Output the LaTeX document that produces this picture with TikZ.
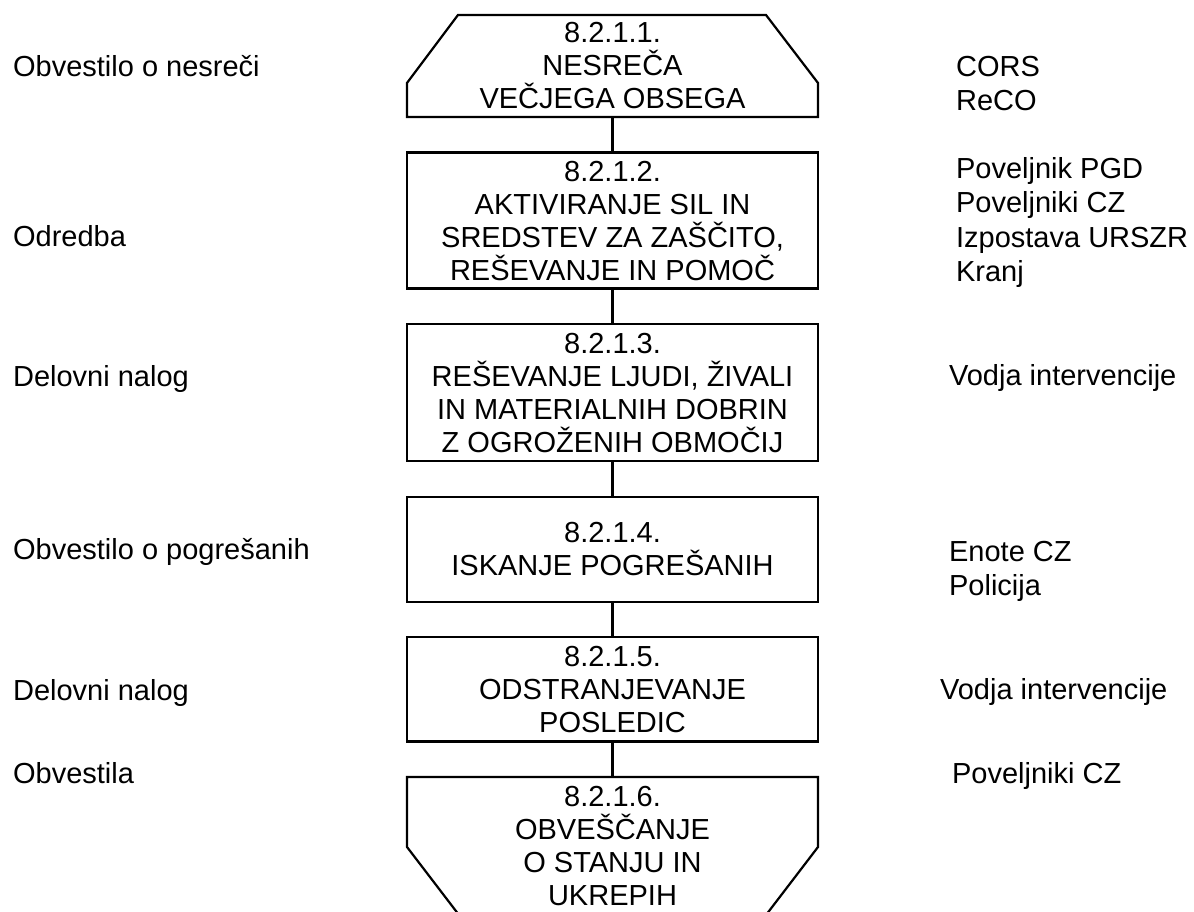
\documentclass[tikz,border=0pt]{standalone}
\usepackage{fontspec}
\setmainfont{Liberation Sans}
\usetikzlibrary{positioning}

\tikzset{
  stepbox/.style={rectangle,minimum width=411pt,inner sep=0pt,outer sep=0pt,align=center,font=\fontsize{29}{33}\selectfont},
  sidelabel/.style={anchor=base west,inner sep=0pt,align=left,font=\fontsize{29}{34.5}\selectfont},
}

\begin{document}
\begin{tikzpicture}[x=1pt,y=1pt,line width=2.2pt,node distance=35.6pt]
        \useasboundingbox (0,0) rectangle (1194,911);
        %% steps
        \node[stepbox,minimum height=102pt] (b1) at (612.5,845) {8.2.1.1.\\NESREČA\\VEČJEGA OBSEGA};
        \node[stepbox,draw,minimum height=136pt,below=of b1] (b2) {8.2.1.2.\\AKTIVIRANJE SIL IN\\SREDSTEV ZA ZAŠČITO,\\REŠEVANJE IN POMOČ};
        \node[stepbox,draw,minimum height=137pt,below=of b2] (b3) {8.2.1.3.\\REŠEVANJE LJUDI, ŽIVALI\\IN MATERIALNIH DOBRIN\\Z OGROŽENIH OBMOČIJ};
        \node[stepbox,draw,minimum height=105pt,below=of b3] (b4) {8.2.1.4.\\ISKANJE POGREŠANIH};
        \node[stepbox,draw,minimum height=104pt,below=of b4] (b5) {8.2.1.5.\\ODSTRANJEVANJE\\POSLEDIC};
        \node[stepbox,minimum height=138pt,below=of b5] (b6) {8.2.1.6.\\OBVEŠČANJE\\O STANJU IN\\UKREPIH};
        %% cut corners of first and last step
        \draw (b1.south west) -- ++(0,34) -- ([xshift=51pt]b1.north west) -- ([xshift=-52pt]b1.north east) -- ++(52,-68) -- (b1.south east) -- cycle;
        \draw (b6.north west) -- ++(0,-70) -- ([xshift=52pt]b6.south west) -- ([xshift=-52pt]b6.south east) -- ++(52,68) -- (b6.north east) -- cycle;
        %% links
        \foreach \a/\b in {b1/b2,b2/b3,b3/b4,b4/b5,b5/b6}
            \draw (\a.south) -- (\b.north);
        %% documents (left)
        \node[sidelabel] (d1) at (12,834) {Obvestilo o nesreči};
        \node[sidelabel] (d2) at (12,664) {Odredba};
        \node[sidelabel] (d3) at (12,524) {Delovni nalog};
        \node[sidelabel] (d4) at (12,351) {Obvestilo o pogrešanih};
        \node[sidelabel] (d5) at (12,211) {Delovni nalog};
        \node[sidelabel] (d6) at (12,128) {Obvestila};
        %% responsible (right), base = last line
        \node[sidelabel] (r1) at (955,800) {CORS\\ReCO};
        \node[sidelabel] (r2) at (955,629) {Poveljnik PGD\\Poveljniki CZ\\Izpostava URSZR\\Kranj};
        \node[sidelabel] (r3) at (948,525) {Vodja intervencije};
        \node[sidelabel] (r4) at (948,315) {Enote CZ\\Policija};
        \node[sidelabel] (r5) at (939,212) {Vodja intervencije};
        \node[sidelabel] (r6) at (951,128) {Poveljniki CZ};
\end{tikzpicture}
\end{document}
